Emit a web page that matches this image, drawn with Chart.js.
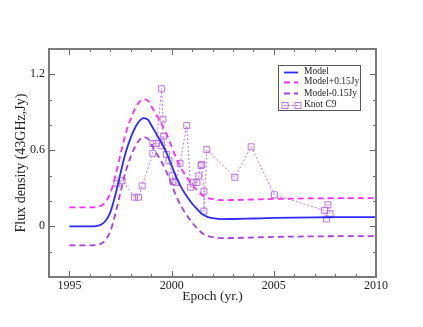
<!DOCTYPE html>
<html>
<head>
<meta charset="utf-8">
<script src="https://cdn.jsdelivr.net/npm/chart.js@4.4.1/dist/chart.umd.min.js"></script>
<style>
  html, body { margin: 0; padding: 0; background: #fff; }
  #wrap { width: 423px; height: 327px; }
</style>
</head>
<body>
<div id="wrap"><canvas id="c" width="423" height="327"></canvas></div>
<script>
// model curve
const modelYear = [1995, 1996, 1996.5, 1996.75, 1997, 1997.25, 1997.5, 1997.75, 1998, 1998.25, 1998.5, 1998.65, 1998.85, 1999, 1999.25, 1999.5, 1999.75, 2000, 2000.25, 2000.5, 2000.75, 2001, 2001.25, 2001.5, 2001.75, 2002, 2002.5, 2003, 2004, 2005, 2006, 2007, 2008, 2009, 2010]
const modelFlux = [0, 0, 0.01, 0.04, 0.11, 0.25, 0.42, 0.58, 0.70, 0.79, 0.845, 0.855, 0.84, 0.80, 0.73, 0.66, 0.58, 0.48, 0.38, 0.30, 0.235, 0.18, 0.135, 0.095, 0.075, 0.065, 0.057, 0.058, 0.062, 0.066, 0.069, 0.071, 0.072, 0.073, 0.073]
const modelUpper = [0.15, 0.15, 0.16, 0.19, 0.26, 0.40, 0.57, 0.73, 0.85, 0.94, 0.995, 1.005, 0.99, 0.95, 0.88, 0.81, 0.73, 0.63, 0.53, 0.45, 0.385, 0.33, 0.285, 0.245, 0.225, 0.215, 0.207, 0.208, 0.212, 0.216, 0.219, 0.221, 0.222, 0.223, 0.223]
const modelLower = [-0.15, -0.15, -0.14, -0.11, -0.04, 0.10, 0.27, 0.43, 0.55, 0.64, 0.695, 0.705, 0.69, 0.65, 0.58, 0.51, 0.43, 0.33, 0.23, 0.15, 0.085, 0.03, -0.015, -0.055, -0.075, -0.085, -0.093, -0.092, -0.088, -0.084, -0.081, -0.079, -0.078, -0.077, -0.077]

// Knot C9 measurements
const knotYear = [1997.32, 1997.58, 1998.19, 1998.38, 1998.56, 1999.08, 1999.08, 1999.25, 1999.51, 1999.58, 1999.51, 1999.61, 1999.74, 1999.87, 2000.03, 2000.07, 2000.2, 2000.41, 2000.74, 2000.93, 2001.05, 2001.24, 2001.32, 2001.44, 2001.47, 2001.58, 2001.58, 2001.72, 2003.09, 2003.89, 2005.03, 2007.48, 2007.58, 2007.65, 2007.75]
const knotFlux = [0.34, 0.36, 0.23, 0.23, 0.32, 0.576, 0.654, 0.654, 1.086, 0.846, 0.636, 0.712, 0.568, 0.518, 0.40, 0.353, 0.345, 0.497, 0.796, 0.309, 0.348, 0.346, 0.398, 0.48, 0.49, 0.277, 0.12, 0.607, 0.387, 0.628, 0.249, 0.126, 0.058, 0.17, 0.10]

const xMajor = [1995, 2000, 2005, 2010]
const yMajor = [0, 0.6, 1.2]
const xMinor = [1995, 1996, 1997, 1998, 1999, 2000, 2001, 2002, 2003, 2004, 2005, 2006, 2007, 2008, 2009]
const yMinor = [-0.2, 0.2, 0.4, 0.8, 1.0]

const serif = '"Liberation Serif", "DejaVu Serif", serif'
const cBlue = '#2b2bff'
const cMag = '#ff2bff'
const cViolet = '#a63ee0'
const cKnot = '#c070e8'

function pts(xs, ys) {
  return xs.map((x, i) => ({ x: x, y: ys[i] }))
}

// frame + inward ticks, like xmgrace
const framePlugin = {
  id: 'frame',
  afterDatasetsDraw(chart) {
    const ctx = chart.ctx
    const a = chart.chartArea
    const xs = chart.scales.x
    const ys = chart.scales.y
    ctx.save()
    ctx.strokeStyle = '#666'
    ctx.lineWidth = 1
    ctx.beginPath()
    xMinor.forEach(v => {
      const px = Math.round(xs.getPixelForValue(v)) + 0.5
      const len = xMajor.includes(v) ? 6 : 3
      ctx.moveTo(px, a.bottom); ctx.lineTo(px, a.bottom - len)
      ctx.moveTo(px, a.top); ctx.lineTo(px, a.top + len)
    })
    yMajor.concat(yMinor).forEach(v => {
      const py = Math.round(ys.getPixelForValue(v)) + 0.5
      const len = yMajor.includes(v) ? 6 : 3
      ctx.moveTo(a.left, py); ctx.lineTo(a.left + len, py)
      ctx.moveTo(a.right, py); ctx.lineTo(a.right - len, py)
    })
    ctx.stroke()
    ctx.strokeStyle = '#7a7a7a'
    ctx.lineWidth = 2
    ctx.strokeRect(a.left, a.top, a.right - a.left, a.bottom - a.top)
    ctx.restore()
  }
}

// legend box inside the plot
const legendPlugin = {
  id: 'boxLegend',
  afterDraw(chart) {
    const ctx = chart.ctx
    const bx = 278, by = 65, bw = 82, bh = 45
    const rows = [71.5, 81.5, 93, 104.5]
    ctx.save()
    ctx.fillStyle = '#fff'
    ctx.fillRect(bx, by, bw, bh)
    ctx.strokeStyle = '#555'
    ctx.lineWidth = 1
    ctx.strokeRect(bx + 0.5, by + 0.5, bw, bh)
    chart.data.datasets.forEach((ds, i) => {
      const y = Math.round(rows[i]) + 0.5
      ctx.strokeStyle = ds.borderColor
      ctx.lineWidth = ds.borderWidth
      ctx.setLineDash(ds.borderDash || [])
      ctx.beginPath()
      ctx.moveTo(284, y); ctx.lineTo(298, y)
      ctx.stroke()
      ctx.setLineDash([])
      if (ds.pointRadius > 0) {
        ctx.lineWidth = 1
        ctx.strokeRect(282, y - 3, 6, 6)
        ctx.strokeRect(295, y - 3, 6, 6)
      }
      ctx.fillStyle = '#222'
      ctx.font = `9.5px ${serif}`
      ctx.textBaseline = 'middle'
      ctx.fillText(ds.label, 304, rows[i])
    })
    ctx.restore()
  }
}

new Chart(document.getElementById('c'), {
  type: 'line',
  data: {
    datasets: [
      { label: 'Model', data: pts(modelYear, modelFlux), borderColor: cBlue, borderWidth: 1.8, pointRadius: 0, cubicInterpolationMode: 'monotone', fill: false },
      { label: 'Model+0.15Jy', data: pts(modelYear, modelUpper), borderColor: cMag, borderWidth: 1.8, borderDash: [6, 4], pointRadius: 0, cubicInterpolationMode: 'monotone', fill: false },
      { label: 'Model-0.15Jy', data: pts(modelYear, modelLower), borderColor: cViolet, borderWidth: 1.8, borderDash: [6, 4], pointRadius: 0, cubicInterpolationMode: 'monotone', fill: false },
      { label: 'Knot C9', data: pts(knotYear, knotFlux), borderColor: cKnot, borderWidth: 1, borderDash: [2, 2], pointStyle: 'rect', pointRadius: 4.2, pointBorderWidth: 1, pointBackgroundColor: 'rgba(0,0,0,0)', pointBorderColor: cKnot, tension: 0, fill: false }
    ]
  },
  options: {
    responsive: false,
    animation: false,
    layout: { padding: { left: 0, top: 49, right: 47, bottom: 0 } },
    plugins: { legend: { display: false }, tooltip: { enabled: false } },
    scales: {
      x: {
        type: 'linear', min: 1994, max: 2010,
        grid: { display: false, drawTicks: false, tickLength: 0 }, border: { display: false },
        afterBuildTicks: s => { s.ticks = xMajor.map(v => ({ value: v })) },
        afterFit: s => { s.height = 50 },
        ticks: { color: '#222', font: { family: serif, size: 12 }, padding: 2, maxRotation: 0, callback: v => String(v) },
        title: { display: true, text: 'Epoch (yr.)', color: '#222', font: { family: serif, size: 13.5 }, padding: { top: 0, bottom: 22 } }
      },
      y: {
        type: 'linear', min: -0.4, max: 1.4,
        grid: { display: false, drawTicks: false, tickLength: 0 }, border: { display: false },
        afterBuildTicks: s => { s.ticks = yMajor.map(v => ({ value: v })) },
        afterFit: s => { s.width = 49 },
        ticks: { color: '#222', font: { family: serif, size: 12 }, padding: 4, callback: v => String(v) },
        title: { display: true, text: 'Flux density (43GHz,Jy)', color: '#222', font: { family: serif, size: 14 }, padding: { top: 13, bottom: 0 } }
      }
    }
  },
  plugins: [framePlugin, legendPlugin]
})
</script>
</body>
</html>
